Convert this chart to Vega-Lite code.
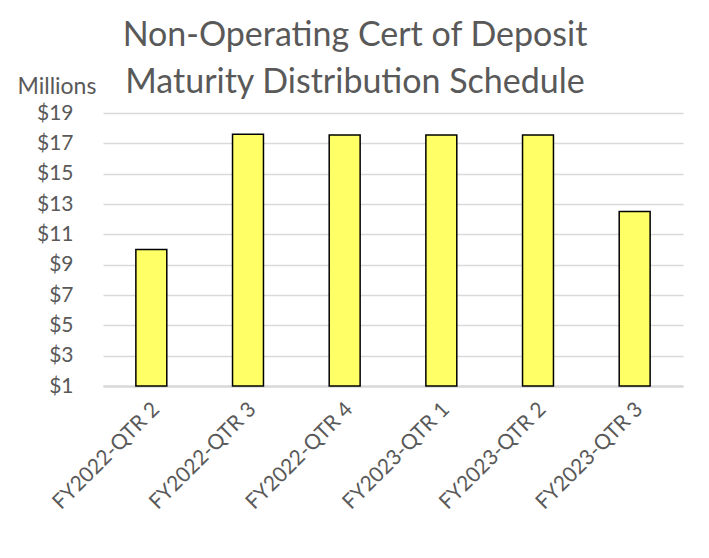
{
  "$schema": "https://vega.github.io/schema/vega-lite/v6.json",
  "autosize": {"type": "none"},
  "padding": {"left": 103, "top": 113, "right": 26, "bottom": 172},
  "width": 580,
  "height": 273,
  "background": "white",
  "title": {
    "text": ["Non-Operating Cert of Deposit", "Maturity Distribution Schedule"],
    "anchor": "middle",
    "frame": "group",
    "dx": -38,
    "dy": 37,
    "offset": 12,
    "font": "Lato",
    "fontSize": 34,
    "fontWeight": "normal",
    "color": "#595959",
    "lineHeight": 47
  },
  "data": {
    "values": [
      {"period": "FY2022-QTR 2", "amount": 10.0},
      {"period": "FY2022-QTR 3", "amount": 17.6},
      {"period": "FY2022-QTR 4", "amount": 17.55},
      {"period": "FY2023-QTR 1", "amount": 17.55},
      {"period": "FY2023-QTR 2", "amount": 17.55},
      {"period": "FY2023-QTR 3", "amount": 12.5}
    ]
  },
  "mark": {"type": "bar", "fill": "#FFFF66", "stroke": "#000000", "strokeWidth": 1.5},
  "encoding": {
    "x": {
      "field": "period",
      "type": "nominal",
      "sort": null,
      "scale": {"paddingInner": 0.68, "paddingOuter": 0.34},
      "axis": {
        "title": null,
        "labelAngle": -45,
        "labelAlign": "right",
        "labelBaseline": "middle",
        "labelPadding": 20,
        "labelOffset": 5,
        "labelFont": "Lato",
        "labelFontSize": 21,
        "labelColor": "#595959",
        "ticks": false,
        "domain": true,
        "domainColor": "#d9d9d9",
        "domainWidth": 2.5,
        "grid": false
      }
    },
    "y": {
      "field": "amount",
      "type": "quantitative",
      "scale": {"domain": [1, 19], "nice": false, "zero": false},
      "axis": {
        "title": "Millions",
        "titleAngle": 0,
        "titleAlign": "left",
        "titleBaseline": "alphabetic",
        "titleX": -86,
        "titleY": -20,
        "titleFont": "Lato",
        "titleFontSize": 23,
        "titleFontWeight": "normal",
        "titleColor": "#595959",
        "values": [1, 3, 5, 7, 9, 11, 13, 15, 17, 19],
        "labelExpr": "'$' + datum.value",
        "labelFont": "Lato",
        "labelFontSize": 21,
        "labelColor": "#595959",
        "labelPadding": 30,
        "ticks": false,
        "domain": false,
        "grid": true,
        "gridColor": "#d9d9d9",
        "gridWidth": 1.5
      }
    },
    "y2": {"datum": 1}
  },
  "config": {"view": {"stroke": null}}
}
